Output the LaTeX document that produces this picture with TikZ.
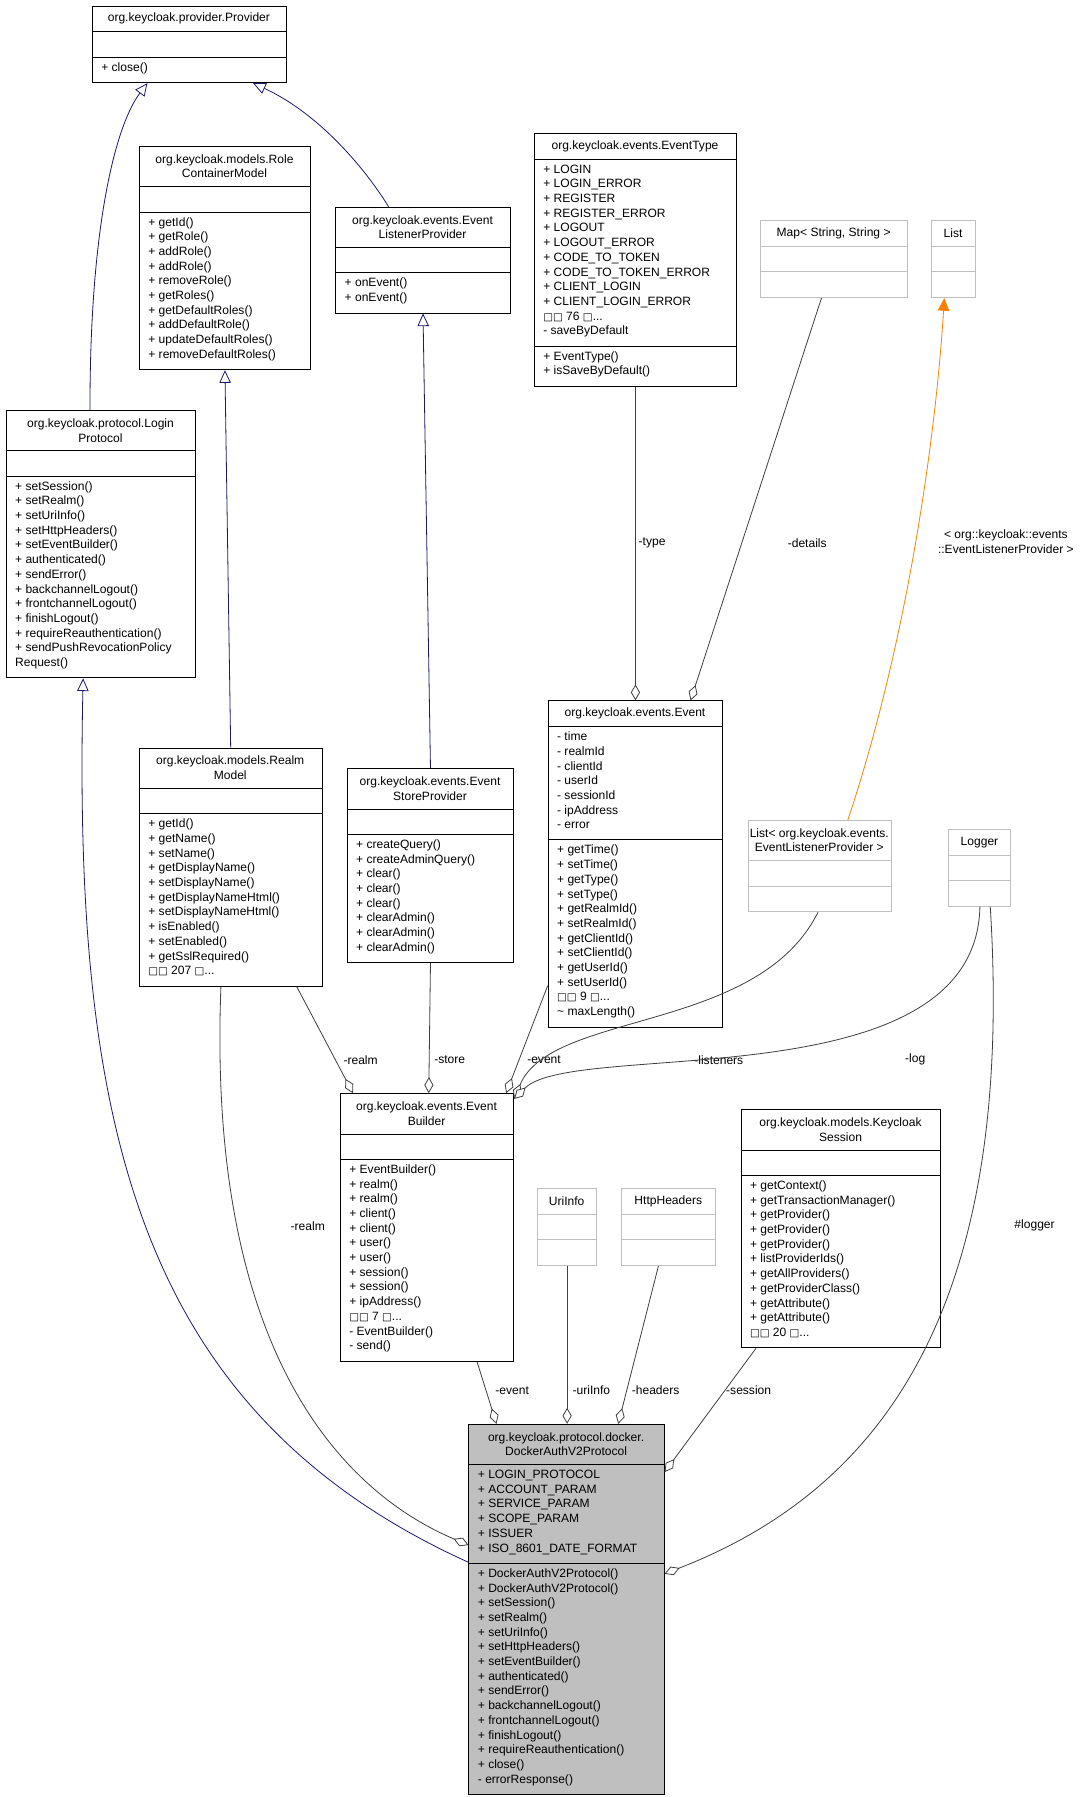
\documentclass[tikz,border=0pt]{standalone}
\usepackage{fontspec}
\setmainfont{Liberation Sans}
\newfontfamily\dv{DejaVu Sans}
\usetikzlibrary{arrows.meta}
\newcommand\uf{\fontsize{10.5}{12.8}\selectfont}
\newcommand\qb{{\dv\fontsize{9}{9}\selectfont □}}
\definecolor{navy}{RGB}{25,25,112}
\definecolor{edgegray}{RGB}{64,64,64}
\definecolor{lgray}{RGB}{191,191,191}
\tikzset{
 bx/.style={draw=black,fill=white,line width=0.8pt,inner sep=0pt},
 bxl/.style={draw=black,line width=0.8pt},
 gbx/.style={draw=lgray,fill=white,line width=0.8pt,inner sep=0pt},
 gbxl/.style={draw=lgray,line width=0.8pt},
 dbx/.style={draw=black,fill=lgray,line width=0.8pt,inner sep=0pt},
 dbxl/.style={draw=black,line width=0.8pt},
 ttl/.style={align=center,inner sep=0pt,font=\uf},
 mem/.style={anchor=north west,align=left,inner sep=0pt,font=\uf},
 inh/.style={draw=navy,line width=0.7pt,{Triangle[open,length=11pt,width=10pt,fill=white]}-},
 tmpl/.style={draw=orange,line width=0.7pt,-{Triangle[length=11pt,width=10pt,fill=orange]}},
 agg/.style={draw=edgegray,line width=0.7pt,-{Diamond[open,length=14pt,width=8pt,fill=white]}},
 lbl/.style={font=\uf,inner sep=1pt}
}
\newcommand\ubox[8]{%
 \pgfmathsetmacro\uht{12.8*#5+10}%
 \pgfmathsetmacro\uha{#6==0?22:12.8*#6+9}%
 \pgfmathsetmacro\uhm{#7==0?22:12.8*#7+9}%
 \pgfmathsetmacro\uya{#4+\uht}%
 \pgfmathsetmacro\uym{\uya+\uha}%
 \pgfmathsetmacro\uyb{\uym+\uhm}%
 \pgfmathsetmacro\uH{\uyb-#4}%
 \node[#8,minimum width=#3pt,minimum height=\uH pt,anchor=north west] (#1) at (#2,#4) {};
 \draw[#8l] (#2,\uya) -- ++(#3,0) (#2,\uym) -- ++(#3,0);
 \coordinate (#1-t) at ({#2+#3/2},{(#4+\uya)/2});
 \coordinate (#1-a) at ({#2+8},{\uya+4.5});
 \coordinate (#1-m) at ({#2+8},{\uym+4.5});
}
\begin{document}
\begin{tikzpicture}[x=1pt,y=-1pt]
\useasboundingbox[fill=white] (0,0) rectangle (943,1565);
% boxes
\ubox{provider}{80}{169}{5}{1}{0}{1}{bx}
\node[ttl] at (provider-t) {org.keycloak.provider.Provider};
\node[mem] at (provider-m) {+ close()};

\ubox{role}{121}{149}{127}{2}{0}{10}{bx}
\node[ttl] at (role-t) {org.keycloak.models.Role\\ContainerModel};
\node[mem] at (role-m) {+ getId()\\+ getRole()\\+ addRole()\\+ addRole()\\+ removeRole()\\+ getRoles()\\+ getDefaultRoles()\\+ addDefaultRole()\\+ updateDefaultRoles()\\+ removeDefaultRoles()};

\ubox{elp}{292}{152}{180}{2}{0}{2}{bx}
\node[ttl] at (elp-t) {org.keycloak.events.Event\\ListenerProvider};
\node[mem] at (elp-m) {+ onEvent()\\+ onEvent()};

\ubox{login}{5}{165}{357}{2}{0}{13}{bx}
\node[ttl] at (login-t) {org.keycloak.protocol.Login\\Protocol};
\node[mem] at (login-m) {+ setSession()\\+ setRealm()\\+ setUriInfo()\\+ setHttpHeaders()\\+ setEventBuilder()\\+ authenticated()\\+ sendError()\\+ backchannelLogout()\\+ frontchannelLogout()\\+ finishLogout()\\+ requireReauthentication()\\+ sendPushRevocationPolicy\\Request()};

\ubox{etype}{465}{176}{116}{1}{12}{2}{bx}
\node[ttl] at (etype-t) {org.keycloak.events.EventType};
\node[mem] at (etype-a) {+ LOGIN\\+ LOGIN\_ERROR\\+ REGISTER\\+ REGISTER\_ERROR\\+ LOGOUT\\+ LOGOUT\_ERROR\\+ CODE\_TO\_TOKEN\\+ CODE\_TO\_TOKEN\_ERROR\\+ CLIENT\_LOGIN\\+ CLIENT\_LOGIN\_ERROR\\\qb\qb{} 76 \qb...\\- saveByDefault};
\node[mem] at (etype-m) {+ EventType()\\+ isSaveByDefault()};

\ubox{map}{662}{128}{192}{1}{0}{0}{gbx}
\node[ttl] at (map-t) {Map< String, String >};
\ubox{list}{811}{38}{192}{1}{0}{0}{gbx}
\node[ttl] at (list-t) {List};

\ubox{event}{477}{152}{610}{1}{7}{12}{bx}
\node[ttl] at (event-t) {org.keycloak.events.Event};
\node[mem] at (event-a) {- time\\- realmId\\- clientId\\- userId\\- sessionId\\- ipAddress\\- error};
\node[mem] at (event-m) {+ getTime()\\+ setTime()\\+ getType()\\+ setType()\\+ getRealmId()\\+ setRealmId()\\+ getClientId()\\+ setClientId()\\+ getUserId()\\+ setUserId()\\\qb\qb{} 9 \qb...\\\textasciitilde{} maxLength()};

\ubox{realm}{121}{159}{651}{2}{0}{11}{bx}
\node[ttl] at (realm-t) {org.keycloak.models.Realm\\Model};
\node[mem] at (realm-m) {+ getId()\\+ getName()\\+ setName()\\+ getDisplayName()\\+ setDisplayName()\\+ getDisplayNameHtml()\\+ setDisplayNameHtml()\\+ isEnabled()\\+ setEnabled()\\+ getSslRequired()\\\qb\qb{} 207 \qb...};

\ubox{esp}{302}{145}{669}{2}{0}{8}{bx}
\node[ttl] at (esp-t) {org.keycloak.events.Event\\StoreProvider};
\node[mem] at (esp-m) {+ createQuery()\\+ createAdminQuery()\\+ clear()\\+ clear()\\+ clear()\\+ clearAdmin()\\+ clearAdmin()\\+ clearAdmin()};

\ubox{listT}{651}{125}{714}{2}{0}{0}{gbx}
\node[ttl] at (listT-t) {List< org.keycloak.events.\\EventListenerProvider >};
\ubox{logger}{826}{54}{722}{1}{0}{0}{gbx}
\node[ttl] at (logger-t) {Logger};

\ubox{eb}{296}{151}{952}{2}{0}{13}{bx}
\node[ttl] at (eb-t) {org.keycloak.events.Event\\Builder};
\node[mem] at (eb-m) {+ EventBuilder()\\+ realm()\\+ realm()\\+ client()\\+ client()\\+ user()\\+ user()\\+ session()\\+ session()\\+ ipAddress()\\\qb\qb{} 7 \qb...\\- EventBuilder()\\- send()};

\ubox{uri}{468}{51}{1035}{1}{0}{0}{gbx}
\node[ttl] at (uri-t) {UriInfo};
\ubox{hh}{541}{82}{1035}{1}{0}{0}{gbx}
\node[ttl] at (hh-t) {HttpHeaders};

\ubox{sess}{645}{174}{966}{2}{0}{11}{bx}
\node[ttl] at (sess-t) {org.keycloak.models.Keycloak\\Session};
\node[mem] at (sess-m) {+ getContext()\\+ getTransactionManager()\\+ getProvider()\\+ getProvider()\\+ getProvider()\\+ listProviderIds()\\+ getAllProviders()\\+ getProviderClass()\\+ getAttribute()\\+ getAttribute()\\\qb\qb{} 20 \qb...};

\ubox{dock}{408}{170}{1240}{2}{6}{15}{dbx}
\node[ttl] at (dock-t) {org.keycloak.protocol.docker.\\DockerAuthV2Protocol};
\node[mem] at (dock-a) {+ LOGIN\_PROTOCOL\\+ ACCOUNT\_PARAM\\+ SERVICE\_PARAM\\+ SCOPE\_PARAM\\+ ISSUER\\+ ISO\_8601\_DATE\_FORMAT};
\node[mem] at (dock-m) {+ DockerAuthV2Protocol()\\+ DockerAuthV2Protocol()\\+ setSession()\\+ setRealm()\\+ setUriInfo()\\+ setHttpHeaders()\\+ setEventBuilder()\\+ authenticated()\\+ sendError()\\+ backchannelLogout()\\+ frontchannelLogout()\\+ finishLogout()\\+ requireReauthentication()\\+ close()\\- errorResponse()};

% inheritance
\draw[inh] ([xshift=-36.5]provider.south) .. controls (100,110) and (78,200) .. ([xshift=-9.5]login.north);
\draw[inh] ([xshift=55.5]provider.south) .. controls (280,100) and (320,150) .. ([xshift=-30]elp.north);
\draw[inh] (role.south) -- (realm.north);
\draw[inh] (elp.south) -- (esp.north);
\draw[inh] ([xshift=-15.5]login.south) .. controls (64,980) and (120,1230) .. ([yshift=41]dock.west);
\draw[tmpl] ([xshift=24.5]listT.north) .. controls (790,560) and (815,380) .. ([xshift=-8]list.south);
\node[lbl,align=center] at (876,472) {< org::keycloak::events\\::EventListenerProvider >};

% aggregations
\draw[agg] (etype.south) -- (event.north);
\node[lbl,anchor=west] at (555,473) {-type};
\draw[agg] ([xshift=-11]map.south) -- ([xshift=48]event.north);
\node[lbl] at (703,473) {-details};
\draw[agg] ([xshift=57.5]realm.south) -- ([xshift=-64.5]eb.north);
\node[lbl,anchor=west] at (298,923) {-realm};
\draw[agg] (esp.south) -- ([xshift=1.5]eb.north);
\node[lbl,anchor=west] at (377,923) {-store};
\draw[agg] ([yshift=-106]event.west) -- ([xshift=-7]eb.north east);
\node[lbl,anchor=west] at (458,923) {-event};
\draw[agg] ([xshift=-1.5]listT.south) .. controls (660,900) and (480,880) .. ([yshift=-5]eb.north east);
\node[lbl] at (626,923) {-listeners};
\draw[agg] (logger.south) .. controls (850,960) and (500,905) .. ([yshift=-5]eb.north east);
\node[lbl] at (797,923) {-log};
\draw[agg] ([xshift=-8.5]realm.south) .. controls (180,1180) and (300,1300) .. ([yshift=56]dock.west);
\node[lbl] at (268,1068) {-realm};
\draw[agg] ([xshift=43.5]eb.south) -- ([xshift=-61]dock.north);
\node[lbl] at (446,1211) {-event};
\draw[agg] (uri.south) -- ([xshift=0.5]dock.north);
\node[lbl] at (515,1211) {-uriInfo};
\draw[agg] ([xshift=-9]hh.south) -- ([xshift=45]dock.north);
\node[lbl] at (571,1211) {-headers};
\draw[agg] ([xshift=-74]sess.south) -- ([yshift=-42]dock.north east);
\node[lbl] at (652,1211) {-session};
\draw[agg] ([xshift=9]logger.south) .. controls (885,1150) and (760,1300) .. ([yshift=31]dock.east);
\node[lbl] at (901,1067) {\#logger};
\end{tikzpicture}
\end{document}
